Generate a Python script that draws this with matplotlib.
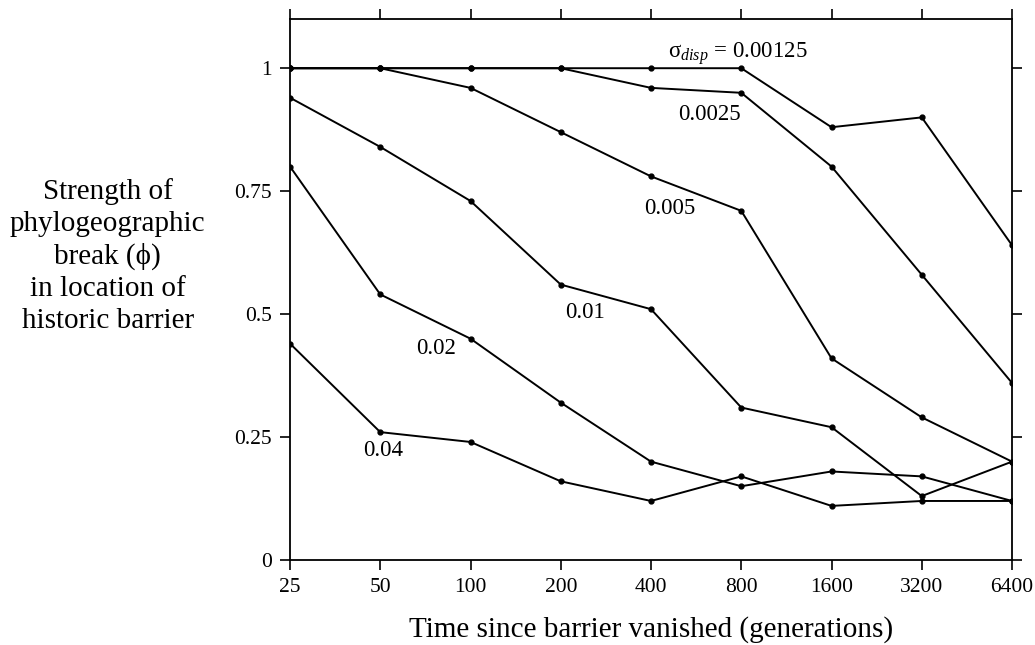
import matplotlib
matplotlib.use('Agg')
import matplotlib.pyplot as plt
import numpy as np

plt.rcParams['font.family'] = ['Liberation Serif', 'DejaVu Serif']
plt.rcParams['mathtext.fontset'] = 'custom'
plt.rcParams['mathtext.rm'] = 'Liberation Serif'
plt.rcParams['mathtext.it'] = 'Liberation Serif:italic'

# generations since the barrier vanished (evenly spaced categories)
times = ['25', '50', '100', '200', '400', '800', '1600', '3200', '6400']

# phi for each dispersal distance
phi_000125 = [1.00, 1.00, 1.00, 1.00, 1.00, 1.00, 0.88, 0.90, 0.64]
phi_00025 = [1.00, 1.00, 1.00, 1.00, 0.96, 0.95, 0.80, 0.58, 0.36]
phi_0005 = [1.00, 1.00, 0.96, 0.87, 0.78, 0.71, 0.41, 0.29, 0.20]
phi_001 = [0.94, 0.84, 0.73, 0.56, 0.51, 0.31, 0.27, 0.13, 0.20]
phi_002 = [0.80, 0.54, 0.45, 0.32, 0.20, 0.15, 0.18, 0.17, 0.12]
phi_004 = [0.44, 0.26, 0.24, 0.16, 0.12, 0.17, 0.11, 0.12, 0.12]

series = [phi_000125, phi_00025, phi_0005, phi_001, phi_002, phi_004]
labels = [r'$\mathrm{σ}_{disp}$ = 0.00125', '0.0025', '0.005', '0.01', '0.02', '0.04']
# label anchor: (category index, y value)
label_pos = [(4.96, 1.029), (4.65, 0.906), (4.21, 0.715), (3.27, 0.503), (1.62, 0.43), (1.03, 0.222)]

x = np.arange(len(times))

fig = plt.figure(figsize=(10.35, 6.45), dpi=100)
ax = fig.add_axes([0.2802, 0.1318, 0.6976, 0.8387])

for vals in series:
    ax.plot(x, vals, color='black', linewidth=1.4, marker='o', markersize=3.5)

for lab, (lx, ly) in zip(labels, label_pos):
    ax.text(lx, ly, lab, fontsize=16.5, ha='center', va='center')

ax.set_xlim(0, 8)
ax.set_ylim(0, 1.1)
ax.set_xticks(x)
ax.set_xticklabels(times)
ax.set_yticks([0, 0.25, 0.5, 0.75, 1])
ax.set_yticklabels(['0', '0.25', '0.5', '0.75', '1'])
ax.tick_params(direction='out', length=7, width=1.2, labelsize=15.5, pad=6,
               top=True, right=True)
for sp in ax.spines.values():
    sp.set_linewidth(1.3)

ax.set_xlabel('Time since barrier vanished (generations)', fontsize=21, labelpad=14)
fig.text(0.104, 0.603, 'Strength of\nphylogeographic\nbreak (ϕ)\nin location of\nhistoric barrier',
         fontsize=21, ha='center', va='center', linespacing=1.29)

fig.savefig('out.png', dpi=100)
